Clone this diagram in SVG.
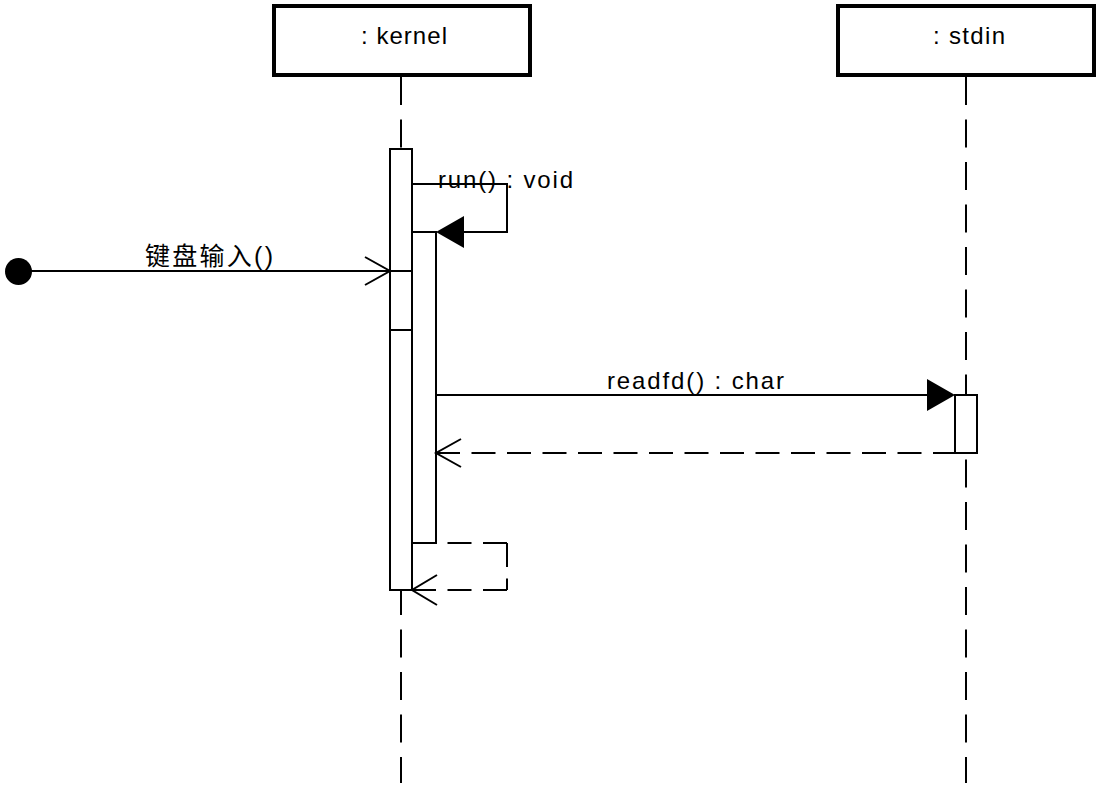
<svg xmlns="http://www.w3.org/2000/svg" width="1101" height="786" viewBox="0 0 1101 786">
  <style>
    .head { fill: #fff; stroke: #000; stroke-width: 4; }
    .lbl { font-family: "Liberation Sans", Arial, sans-serif; font-size: 24px; fill: #000; }
    .cjk { font-family: "Liberation Sans", "Noto Sans CJK SC", sans-serif; font-size: 25px; fill: #000; }
    .life { stroke: #000; stroke-width: 2; stroke-dasharray: 28 14.5; fill: none; }
    .act { fill: #fff; stroke: #000; stroke-width: 2; }
    .msg { stroke: #000; stroke-width: 2; fill: none; }
    .ret { stroke: #000; stroke-width: 2; fill: none; stroke-dasharray: 24 11.5; }
    .open { stroke: #000; stroke-width: 2; fill: none; }
    .fill { fill: #000; stroke: none; }
  </style>

  <g id="lifelines">
    <line class="life" x1="401" y1="77" x2="401" y2="783"/>
    <line class="life" x1="966" y1="77" x2="966" y2="783"/>
  </g>

  <g id="kernel">
    <rect class="head" x="274" y="6" width="256" height="69"/>
    <text class="lbl" x="404" y="44" text-anchor="middle" textLength="86" lengthAdjust="spacing">: kernel</text>
  </g>

  <g id="stdin">
    <rect class="head" x="838" y="6" width="256" height="69"/>
    <text class="lbl" x="969" y="44" text-anchor="middle" textLength="72" lengthAdjust="spacing">: stdin</text>
  </g>

  <g id="activations">
    <rect class="act" x="390" y="149" width="22" height="441"/>
    <rect class="act" x="412" y="232" width="24" height="311"/>
    <rect class="act" x="390" y="271" width="22" height="59"/>
    <rect class="act" x="955" y="395" width="22" height="58"/>
  </g>

  <g id="connectors">
    <!-- found message -->
    <circle class="fill" cx="18.5" cy="271.5" r="13.5"/>
    <line class="msg" x1="18" y1="271" x2="390" y2="271"/>
    <polyline class="open" points="365,257 390,271 365,285"/>
    <text class="cjk" x="145" y="265" textLength="128" lengthAdjust="spacing">键盘输入()</text>

    <!-- run() self call -->
    <polyline class="msg" points="412,184 507,184 507,232 464,232"/>
    <polygon class="fill" points="436,232 464,216 464,248"/>
    <text class="lbl" x="438" y="188" textLength="135" lengthAdjust="spacing">run() : void</text>

    <!-- readfd -->
    <line class="msg" x1="436" y1="395" x2="927" y2="395"/>
    <polygon class="fill" points="955,395 927,379 927,411"/>
    <text class="lbl" x="607" y="389" textLength="177" lengthAdjust="spacing">readfd() : char</text>

    <!-- return from readfd -->
    <line class="ret" x1="436" y1="453" x2="955" y2="453"/>
    <polyline class="open" points="461,439 436,453 461,467"/>

    <!-- self return -->
    <line class="ret" x1="412" y1="543" x2="507" y2="543"/>
    <line class="ret" x1="507" y1="543" x2="507" y2="590"/>
    <line class="ret" x1="507" y1="590" x2="412" y2="590"/>
    <polyline class="open" points="437,575 412,590 437,605"/>
  </g>
</svg>
